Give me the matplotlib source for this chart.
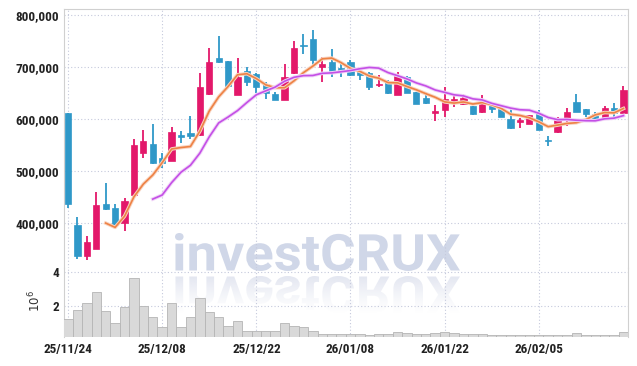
import matplotlib
matplotlib.use('Agg')
import matplotlib.pyplot as plt
from matplotlib import font_manager
from matplotlib.textpath import TextPath
from matplotlib.font_manager import FontProperties
from matplotlib.patches import PathPatch
from matplotlib.transforms import Affine2D
from matplotlib.ticker import FuncFormatter
import matplotlib.patheffects as pe
import numpy as np
import pandas as pd

# --- data (prices in thousand won, volume in millions) ---
opens = [612, 396, 337, 351, 437, 430, 401, 454, 536, 553,
         525, 520, 570, 574, 570, 649, 718, 712, 647, 693,
         687, 668, 649, 637, 690, 744, 754, 701, 711, 699,
         711, 691, 690, 666, 673, 647, 682, 652, 641, 613,
         618, 633, 630, 625, 615, 630, 620, 600, 594, 590,
         613, 560, 575, 600, 633, 619, 610, 604, 622, 613]
closes = [437, 336, 364, 435, 428, 396, 443, 551, 558, 515,
          515, 575, 565, 568, 662, 710, 711, 665, 681, 672,
          663, 651, 637, 681, 738, 742, 714, 707, 689, 694,
          686, 686, 662, 668, 651, 684, 651, 630, 631, 616,
          640, 639, 641, 611, 630, 619, 605, 584, 599, 608,
          580, 558, 599, 615, 615, 610, 603, 622, 612, 657]
highs = [613, 411, 375, 459, 477, 436, 449, 562, 580, 591,
         536, 585, 578, 606, 689, 738, 760, 713, 719, 701,
         690, 671, 652, 706, 750, 765, 773, 720, 735, 706,
         715, 694, 691, 686, 675, 691, 684, 652, 653, 627,
         662, 644, 649, 626, 647, 632, 620, 621, 603, 608,
         617, 568, 605, 621, 649, 620, 615, 626, 631, 664]
lows = [429, 330, 328, 351, 425, 395, 385, 454, 525, 513,
        506, 519, 555, 563, 568, 647, 708, 660, 647, 664,
        651, 640, 637, 637, 688, 725, 701, 672, 681, 681,
        684, 675, 657, 662, 649, 646, 650, 629, 630, 597,
        605, 624, 628, 608, 613, 612, 604, 581, 583, 590,
        579, 549, 574, 587, 614, 605, 601, 603, 605, 612]
volume = [1.25, 1.80, 2.20, 2.84, 1.73, 1.02, 1.96, 3.67, 2.02, 1.37,
          0.78, 2.20, 0.78, 1.37, 2.49, 1.67, 1.37, 0.84, 1.14, 0.55,
          0.55, 0.55, 0.55, 1.02, 0.84, 0.78, 0.55, 0.40, 0.38, 0.40,
          0.36, 0.38, 0.34, 0.38, 0.36, 0.47, 0.42, 0.40, 0.36, 0.42,
          0.47, 0.42, 0.38, 0.40, 0.36, 0.33, 0.30, 0.34, 0.30, 0.32,
          0.30, 0.30, 0.32, 0.30, 0.42, 0.32, 0.30, 0.30, 0.32, 0.50]
tick_pos = [0, 10, 20, 30, 40, 50]
tick_labels = ['25/11/24', '25/12/08', '25/12/22', '26/01/08', '26/01/22', '26/02/05']
price_ticks = [400000, 500000, 600000, 700000, 800000]


def pick_font(names):
    for n in names:
        try:
            font_manager.findfont(n, fallback_to_default=False)
            return n
        except Exception:
            pass
    return 'DejaVu Sans'


LABEL_FONT = pick_font(['Liberation Sans Narrow', 'Roboto Condensed', 'DejaVu Sans'])
MARK_FONT = pick_font(['Liberation Sans Narrow', 'Roboto', 'DejaVu Sans'])

UP = '#e3186a'
DOWN = '#2f98c8'
GRID = '#c5c9dc'
W, H = 637, 366

df = pd.DataFrame({'o': opens, 'h': highs, 'l': lows, 'c': closes, 'v': volume}) * 1.0
df[['o', 'h', 'l', 'c']] *= 1000
df['v'] *= 1e6
df['ma5'] = df['c'].rolling(5).mean()
df['ma10'] = df['c'].rolling(10).mean()
x = np.arange(len(df))

fig = plt.figure(figsize=(W / 100, H / 100), dpi=100, facecolor='white')

# --- watermark with reflection (behind both panels) ---
tp = TextPath((0, 0), 'investCRUX', size=50, prop=FontProperties(family=MARK_FONT, weight='bold'))
ext = tp.get_extents()
sx = (460 - 175) / ext.width
sy = (271 - 233) / ext.height
to_fig = Affine2D().scale(1 / W, 1 / H) + fig.transFigure
main_tr = Affine2D().translate(-ext.x0, -ext.y0).scale(sx, sy).translate(175, H - 271)
refl_tr = Affine2D().translate(-ext.x0, -ext.y0).scale(sx, -sy).translate(175, H - 276)
fig.add_artist(PathPatch(tp, transform=main_tr + to_fig, facecolor='#d0d7e8',
                         edgecolor='none', zorder=-2))
bg = fig.add_axes([0, 0, 1, 1], zorder=-3)
bg.axis('off')
grad = np.ones((100, 2, 4))
grad[..., :3] = np.array([0xda, 0xde, 0xec]) / 255
grad[..., 3] = np.linspace(0.0, 0.8, 100)[:, None] ** 1.3
y_top, y_bot = (H - 276) / H, (H - 276 - (271 - 233)) / H
im = bg.imshow(grad, extent=[175 / W, 460 / W, y_bot, y_top], aspect='auto',
               origin='lower', transform=bg.transAxes)
bg.set_xlim(0, 1)
bg.set_ylim(0, 1)
refl = PathPatch(tp, transform=refl_tr + to_fig, facecolor='none', edgecolor='none')
fig.add_artist(refl)
im.set_clip_path(refl)

left, right = 64 / W, 628 / W
ax = fig.add_axes([left, 1 - 268 / H, right - left, (268 - 9) / H])
axv = fig.add_axes([left, 1 - 337 / H, right - left, (337 - 268) / H], sharex=ax)
for a in (ax, axv):
    a.set_facecolor('none')
    a.grid(True, color=GRID, linestyle=(0, (1, 2)), linewidth=0.8)
    a.set_axisbelow(True)
    a.tick_params(length=0, labelsize=9.5, colors='#222222')
    for s in a.spines.values():
        s.set_color('#d0d0d0')

# --- candles ---
up = df['c'] >= df['o']
colors = np.where(up, UP, DOWN)
body_lo = np.minimum(df['o'], df['c'])
body_h = np.maximum((df['c'] - df['o']).abs(), 1500)
ax.vlines(x, df['l'], df['h'], colors=colors, linewidth=1.3, zorder=3)
ax.bar(x, body_h, bottom=body_lo, width=0.66, color=colors, zorder=4,
       edgecolor=colors, linewidth=0.5)

glow5 = [pe.Stroke(linewidth=2.6, foreground='#f8d4c0'), pe.Normal()]
glow10 = [pe.Stroke(linewidth=2.6, foreground='#f0d2f8'), pe.Normal()]
ax.plot(x, df['ma5'], color='#ee8245', linewidth=1.2, zorder=5, path_effects=glow5)
ax.plot(x, df['ma10'], color='#c44fe6', linewidth=1.2, zorder=5, path_effects=glow10)

ax.set_ylim(313500, 812500)
ax.set_yticks(price_ticks)
ax.yaxis.set_major_formatter(FuncFormatter(lambda v, p: f'{int(v):,}'))
ax.spines['bottom'].set_visible(False)
ax.tick_params(labelbottom=False)

# --- volume ---
axv.bar(x, df['v'], width=1.0, color='#d9d9d9', edgecolor='#b5b5b5', linewidth=0.6, zorder=3)
axv.set_ylim(0.2e6, 4.25e6)
axv.set_yticks([2e6, 4e6])
axv.yaxis.set_major_formatter(FuncFormatter(lambda v, p: f'{v / 1e6:g}'))
axv.spines['top'].set_visible(False)
axv.spines['bottom'].set_visible(False)
axv.set_xticks(tick_pos)
axv.set_xticklabels(tick_labels)
axv.set_xlim(-0.43, 59.48)
axv.tick_params(axis='x', pad=4)
fig.text(35 / W, 1 - 301 / H, r'$10^6$', rotation=90, ha='center', va='center',
         fontsize=8.5, color='#333333')

for lab in ax.get_yticklabels() + axv.get_yticklabels() + axv.get_xticklabels():
    lab.set_fontfamily(LABEL_FONT)
    lab.set_fontweight('bold')

fig.savefig('out.png', dpi=100, facecolor='white')
